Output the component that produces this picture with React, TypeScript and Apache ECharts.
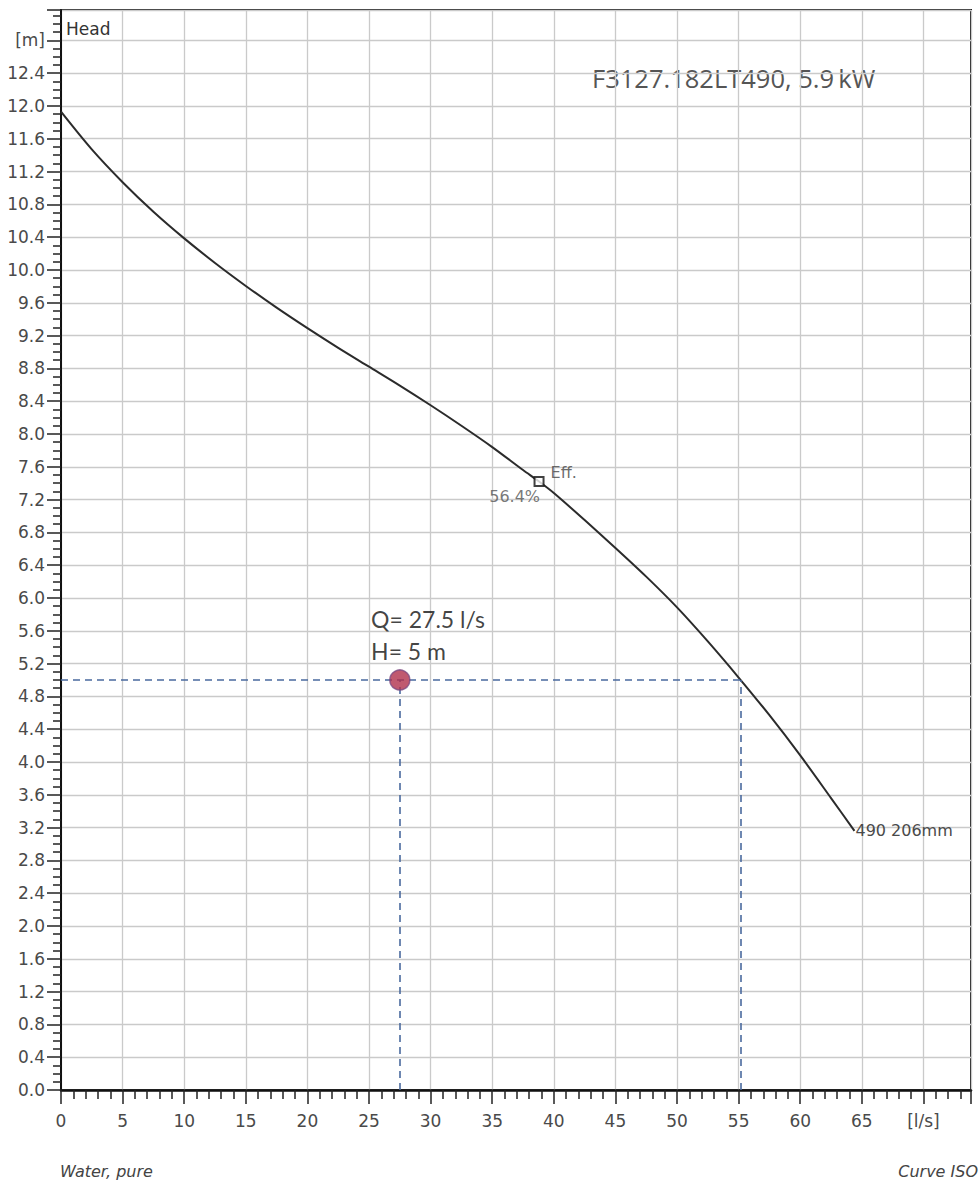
import React, { useEffect, useRef } from "react";
import * as echarts from "echarts";

// Pump curve F3127.182LT490, impeller 206 mm
const flowQ = [0, 2.5, 5, 7.5, 10, 12.5, 15, 17.5, 20, 22.5, 25, 27.5, 30, 32.5, 35, 37.5, 38.8, 40, 42.5, 45, 47.5, 50, 52.5, 55, 57.5, 60, 62.5, 64.4];
const headH = [11.93, 11.47, 11.07, 10.71, 10.385, 10.085, 9.805, 9.54, 9.29, 9.05, 8.82, 8.59, 8.35, 8.1, 7.84, 7.56, 7.42, 7.28, 6.95, 6.61, 6.26, 5.885, 5.47, 5.03, 4.57, 4.08, 3.56, 3.16];

const effPoint = [38.8, 7.42];
const effLabel = "Eff.";
const effValue = "56.4%";
const dutyQ = 27.5;
const dutyH = 5;
const intersectQ = 55.2;
const curveName = "490 206mm";
const title = "F3127.182LT490, 5.9\u2009kW";
const xUnitLabel = "[l/s]";
const yUnitLabel = "[m]";

const AX_FONT = "'DejaVu Sans', 'Liberation Sans', sans-serif";

export default function App() {
  const ref = useRef<HTMLDivElement>(null);
  useEffect(() => {
    if (!ref.current) return;
    const chart = echarts.init(ref.current, null, { renderer: "svg" });
    const curveData = flowQ.map((q, i) => [q, headH[i]]);
    chart.setOption({
      animation: false,
      backgroundColor: "#fff",
      grid: {
        left: 61,
        right: 9,
        top: 10,
        bottom: 92,
        show: true,
        borderColor: "#222",
        borderWidth: 2,
      },
      xAxis: {
        type: "value",
        min: 0,
        max: 73.86,
        interval: 5,
        axisLine: { show: true, onZero: false, lineStyle: { color: "#111", width: 2.5 } },
        axisTick: { show: true, inside: false, length: 14, lineStyle: { color: "#222", width: 1.5 } },
        minorTick: { show: true, splitNumber: 5, length: 9, lineStyle: { color: "#222", width: 1.5 } },
        splitLine: { show: true, lineStyle: { color: "#cacaca", width: 1.3 } },
        axisLabel: {
          margin: 22,
          color: "#4a4a4a",
          fontSize: 17,
          fontFamily: AX_FONT,
          showMaxLabel: false,
          formatter: (v: number) => {
            if (Math.abs(v - 70) < 1e-6) return xUnitLabel;
            if (Math.abs(v / 5 - Math.round(v / 5)) > 1e-6) return "";
            return String(Math.round(v));
          },
        },
      },
      yAxis: {
        type: "value",
        min: 0,
        max: 13.17,
        interval: 0.4,
        axisLine: { show: true, onZero: false, lineStyle: { color: "#111", width: 2 } },
        axisTick: { show: true, inside: false, length: 14, lineStyle: { color: "#222", width: 1.5 } },
        minorTick: { show: true, splitNumber: 4, length: 8, lineStyle: { color: "#222", width: 1.5 } },
        splitLine: { show: true, lineStyle: { color: "#cacaca", width: 1.3 } },
        axisLabel: {
          margin: 16,
          color: "#4a4a4a",
          fontSize: 17,
          fontFamily: AX_FONT,
          formatter: (v: number) => {
            const r = Math.round(v * 10) / 10;
            if (Math.abs(v - r) > 1e-6) return "";
            if (Math.abs(r - 12.8) < 1e-6) return yUnitLabel;
            if (Math.round(r * 10) % 4 !== 0) return "";
            return r.toFixed(1);
          },
        },
      },
      graphic: [
        {
          type: "text",
          left: 66,
          top: 20,
          style: { text: "Head", fontSize: 17, fontFamily: AX_FONT, fill: "#333" },
        },
        {
          type: "text",
          left: 592,
          top: 65,
          style: { text: title, fontSize: 25.5, fontFamily: "'Open Sans', 'Noto Sans', sans-serif", fill: "#555" },
        },
        {
          type: "text",
          left: 60,
          top: 1163,
          style: { text: "Water, pure", fontSize: 16, fontStyle: "italic", fontFamily: AX_FONT, fill: "#444" },
        },
        {
          type: "text",
          right: 2,
          top: 1163,
          style: { text: "Curve ISO", fontSize: 16, fontStyle: "italic", fontFamily: AX_FONT, fill: "#444" },
        },
      ],
      series: [
        {
          type: "line",
          name: "curve",
          data: curveData,
          smooth: 0.3,
          showSymbol: false,
          symbol: "none",
          lineStyle: { color: "#2b2b2b", width: 2 },
          z: 3,
          endLabel: {
            show: true,
            formatter: curveName,
            distance: 1,
            color: "#4a4a4a",
            fontSize: 16,
            fontFamily: AX_FONT,
          },
          markLine: {
            silent: true,
            symbol: ["none", "none"],
            label: { show: false },
            lineStyle: { type: [7, 5], color: "#4a6a9e", width: 1.6 },
            data: [
              [{ coord: [0, dutyH] }, { coord: [intersectQ, dutyH] }],
              [{ coord: [dutyQ, 0] }, { coord: [dutyQ, dutyH] }],
              [{ coord: [intersectQ, 0] }, { coord: [intersectQ, dutyH] }],
            ],
          },
        },
        {
          type: "scatter",
          name: "eff",
          data: [effPoint],
          symbol: "rect",
          symbolSize: 9,
          itemStyle: { color: "#fff", borderColor: "#111", borderWidth: 2 },
          z: 5,
          label: {
            show: true,
            formatter: effLabel,
            position: [17, -4],
            align: "left",
            verticalAlign: "middle",
            color: "#444",
            fontSize: 16,
            fontFamily: AX_FONT,
          },
        },
        {
          type: "scatter",
          name: "effValue",
          data: [effPoint],
          symbol: "circle",
          symbolSize: 2,
          itemStyle: { color: "rgba(0,0,0,0)" },
          z: 4,
          label: {
            show: true,
            formatter: effValue,
            position: [2, 16],
            align: "right",
            verticalAlign: "middle",
            color: "#555",
            fontSize: 16,
            fontFamily: AX_FONT,
          },
        },
        {
          type: "scatter",
          name: "duty",
          data: [[dutyQ, dutyH]],
          symbol: "circle",
          symbolSize: 20,
          itemStyle: { color: "#b0304c", borderColor: "#7d4a82", borderWidth: 1.5 },
          z: 6,
          label: {
            show: true,
            formatter: "Q= " + dutyQ + " l/s\nH= " + dutyH + " m",
            position: [-18, -66],
            align: "left",
            verticalAlign: "top",
            lineHeight: 32,
            color: "#111",
            fontSize: 23,
            fontFamily: "Lato, 'Open Sans', sans-serif",
          },
        },
      ],
    });
    return () => chart.dispose();
  }, []);
  return (
    <div
      ref={ref}
      style={{ position: "absolute", left: 0, top: 0, width: 980, height: 1182, background: "#fff" }}
    />
  );
}
